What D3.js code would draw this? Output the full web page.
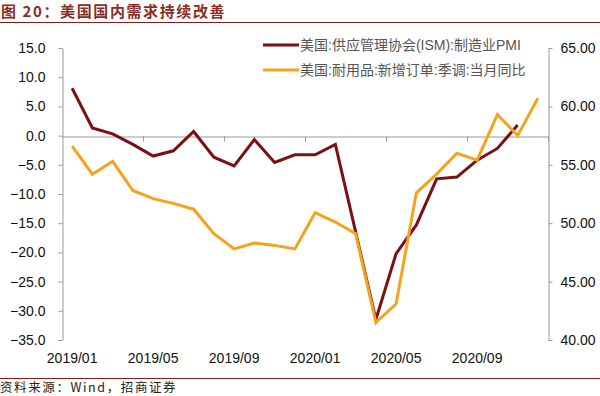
<!DOCTYPE html>
<html>
<head>
<meta charset="utf-8">
<script src="https://cdn.jsdelivr.net/npm/d3@7"></script>
<style>
  body { margin: 0; background: #fff; }
  svg { display: block; font-family: "Liberation Sans", Arial, sans-serif; }
</style>
</head>
<body>
<svg id="chart" width="600" height="396"></svg>
<script>
// months 2019/01 - 2020/12
const months = ["2019/01","2019/02","2019/03","2019/04","2019/05","2019/06","2019/07","2019/08","2019/09","2019/10","2019/11","2019/12",
  "2020/01","2020/02","2020/03","2020/04","2020/05","2020/06","2020/07","2020/08","2020/09","2020/10","2020/11","2020/12"];
// dark red series, left axis
const seriesLeft = [8.1, 1.3, 0.3, -1.5, -3.5, -2.6, 0.7, -3.7, -5.2, -0.7, -4.6, -3.3,
  -3.3, -1.5, -16.5, -31.5, -20.2, -15.3, -7.4, -7.1, -4.2, -2.2, 1.8, null];
// orange series, right axis
const seriesRight = [56.6, 54.2, 55.3, 52.8, 52.1, 51.7, 51.2, 49.1, 47.8, 48.3, 48.1, 47.8,
  50.9, 50.1, 49.1, 41.5, 43.1, 52.6, 54.2, 56.0, 55.4, 59.3, 57.5, 60.7];
const leftTicks = [-35, -30, -25, -20, -15, -10, -5, 0, 5, 10, 15];
const rightTicks = [40, 45, 50, 55, 60, 65];
const xLabels = ["2019/01", "2019/05", "2019/09", "2020/01", "2020/05", "2020/09"];
const legendNames = ["美国:供应管理协会(ISM):制造业PMI", "美国:耐用品:新增订单:季调:当月同比"];

const darkRed = "#7a1014", orange = "#f5a31f";
const svg = d3.select("#chart");

// title + rules
svg.append("text").attr("x", 1).attr("y", 17)
  .attr("font-family", "'Noto Sans CJK SC', sans-serif")
  .attr("font-size", 15).attr("font-weight", "bold").attr("fill", "#8b2d22")
  .attr("letter-spacing", 1.6)
  .text("图 20：美国国内需求持续改善");
svg.append("line").attr("x1", 0).attr("x2", 600).attr("y1", 22.5).attr("y2", 22.5)
  .attr("stroke", "#8b1a1a").attr("stroke-width", 1.2);
svg.append("line").attr("x1", 0).attr("x2", 600).attr("y1", 378.5).attr("y2", 378.5)
  .attr("stroke", "#8b1a1a").attr("stroke-width", 1);
svg.append("text").attr("x", 0).attr("y", 392)
  .attr("font-family", "'Noto Sans CJK SC', sans-serif")
  .attr("font-size", 12.5).attr("fill", "#222").attr("letter-spacing", 1.6)
  .text("资料来源：Wind，招商证券");

const x = d3.scaleBand().domain(months).range([62, 548]);
const yL = d3.scaleLinear().domain([-35, 15]).range([340, 48]);
const yR = d3.scaleLinear().domain([40, 65]).range([340, 48]);

// left axis
const axL = svg.append("g").attr("transform", "translate(62.5,0)")
  .call(d3.axisLeft(yL).tickValues(leftTicks).tickFormat(d3.format(".1f")).tickSize(4).tickPadding(13).tickSizeOuter(0));
// right axis
const axR = svg.append("g").attr("transform", "translate(548.5,0)")
  .call(d3.axisRight(yR).tickValues(rightTicks).tickFormat(d3.format(".2f")).tickSize(4).tickPadding(8).tickSizeOuter(0));
[axL, axR].forEach(a => {
  a.select(".domain").attr("stroke", "#999");
  a.selectAll(".tick line").attr("stroke", "#999");
  a.selectAll("text").attr("font-size", 14).attr("fill", "#111")
    .attr("font-family", "'Liberation Sans', Arial, sans-serif");
});

// category axis on zero line
const zeroY = Math.round(yL(0)) + 0.5;
const axX = svg.append("g").attr("transform", `translate(0,${zeroY})`)
  .call(d3.axisBottom(x).tickValues(months.filter((d, i) => i % 4 === 0)).tickSize(0).tickFormat(""));
axX.select(".domain").attr("stroke", "#999");
axX.selectAll(".tick").remove();
const bounds = d3.range(0, months.length + 1, 4).map(i => i < months.length ? x(months[i]) : x.range()[1]);
axX.selectAll(".bt").data(bounds.slice(1)).enter().append("line")
  .attr("x1", d => Math.round(d) + 0.5).attr("x2", d => Math.round(d) + 0.5)
  .attr("y1", 0).attr("y2", 5).attr("stroke", "#999");

// x labels at bottom
svg.selectAll(".xl").data(xLabels).enter().append("text")
  .attr("x", d => x(d) + x.bandwidth() / 2).attr("y", 363)
  .attr("text-anchor", "middle").attr("font-size", 14).attr("fill", "#111")
  .text(d => d);

// lines
const lineL = d3.line().defined(d => d != null)
  .x((d, i) => x(months[i]) + x.bandwidth() / 2).y(d => yL(d));
const lineR = d3.line()
  .x((d, i) => x(months[i]) + x.bandwidth() / 2).y(d => yR(d));
svg.append("path").datum(seriesLeft).attr("d", lineL)
  .attr("fill", "none").attr("stroke", darkRed).attr("stroke-width", 3).attr("stroke-linejoin", "miter");
svg.append("path").datum(seriesRight).attr("d", lineR)
  .attr("fill", "none").attr("stroke", orange).attr("stroke-width", 3).attr("stroke-linejoin", "miter");

// legend
const lg = svg.selectAll(".lg").data(legendNames).enter().append("g")
  .attr("transform", (d, i) => `translate(263,${45 + i * 25})`);
lg.append("line").attr("x1", 0).attr("x2", 36).attr("y1", 0).attr("y2", 0)
  .attr("stroke", (d, i) => i === 0 ? darkRed : orange).attr("stroke-width", 3);
lg.append("text").attr("x", 37).attr("y", 5)
  .attr("font-family", "'Liberation Sans', 'Noto Sans CJK SC', sans-serif")
  .attr("font-size", 14).attr("fill", "#555")
  .text(d => d);
</script>
</body>
</html>
